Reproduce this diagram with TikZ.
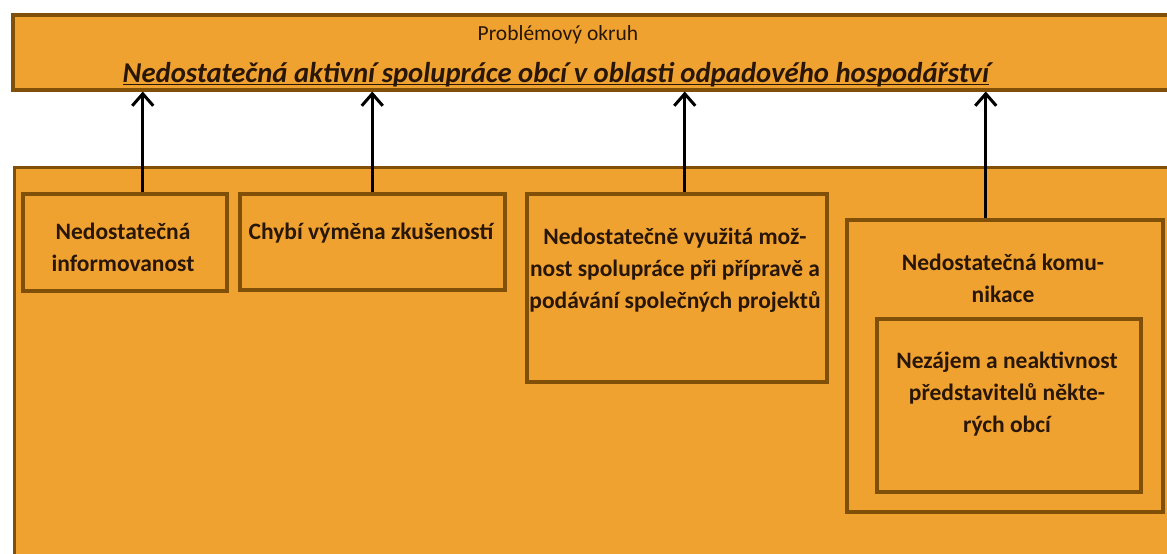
\documentclass[tikz,border=0pt]{standalone}
\usepackage{fontspec}
\setmainfont{Carlito}
\usetikzlibrary{arrows.meta}
\definecolor{boxfill}{RGB}{240,162,48}
\definecolor{boxline}{RGB}{128,80,8}
\definecolor{txt}{RGB}{40,22,8}
\begin{document}
\begin{tikzpicture}[x=1pt,y=-1pt,
  panel/.style={draw=boxline, fill=boxfill, line width=3.5pt, inner sep=0pt, anchor=north west},
  cause/.style={font=\fontsize{23.5}{31.8}\selectfont\bfseries, text=txt, align=center, inner sep=0pt},
  uparrow/.style={-{Straight Barb[length=12pt,width=21pt]}, line width=3pt, black}]
\clip (0,0) rectangle (1167,554);
\fill[white] (0,0) rectangle (1167,554);
% top problem box
\node[panel, minimum width=1200pt, minimum height=75pt] (top) at (11,13) {};
\node[font=\fontsize{21.5}{24}\selectfont, text=txt, anchor=base, inner sep=0pt] (head) at (558,40) {Problémový okruh};
\node[font=\fontsize{28.7}{32}\selectfont\bfseries\itshape, text=txt, anchor=base, inner sep=0pt] (title) at (556,82) {Nedostatečná aktivní spolupráce obcí v oblasti odpadového hospodářství};
\draw[txt, line width=1.5pt] ([yshift=-2.5pt]title.base west) -- ([yshift=-2.5pt]title.base east);
% big container
\node[panel, line width=3pt, minimum width=1200pt, minimum height=420pt] (area) at (13,166) {};
% cause boxes
\node[panel, minimum width=204pt, minimum height=97pt] (b1) at (21,192) {};
\node[panel, minimum width=265pt, minimum height=96pt] (b2) at (238,192) {};
\node[panel, minimum width=300pt, minimum height=188pt] (b3) at (525,192) {};
\node[panel, minimum width=316pt, minimum height=292pt] (b4) at (845,218) {};
\node[panel, minimum width=264pt, minimum height=173pt] (b5) at (875,317) {};
% texts
\node[cause] (t1) at (123,247) {Nedostatečná\\informovanost};
\node[cause] (t2) at (371,233) {Chybí výměna zkušeností};
\node[cause] (t3) at (675,270) {Nedostatečně využitá mož-\\nost spolupráce při přípravě a\\podávání společných projektů};
\node[cause] (t4) at (1003,278) {Nedostatečná komu-\\nikace};
\node[cause] (t5) at (1007,394) {Nezájem a neaktivnost\\představitelů někte-\\rých obcí};
% arrows
\draw[uparrow] ([xshift=18pt]b1.north) -- ([xshift=18pt]b1.north |- top.south);
\draw[uparrow] (b2.north) -- (b2.north |- top.south);
\draw[uparrow] ([xshift=8pt]b3.north) -- ([xshift=8pt]b3.north |- top.south);
\draw[uparrow] ([xshift=-19pt]b4.north) -- ([xshift=-19pt]b4.north |- top.south);
\end{tikzpicture}
\end{document}
